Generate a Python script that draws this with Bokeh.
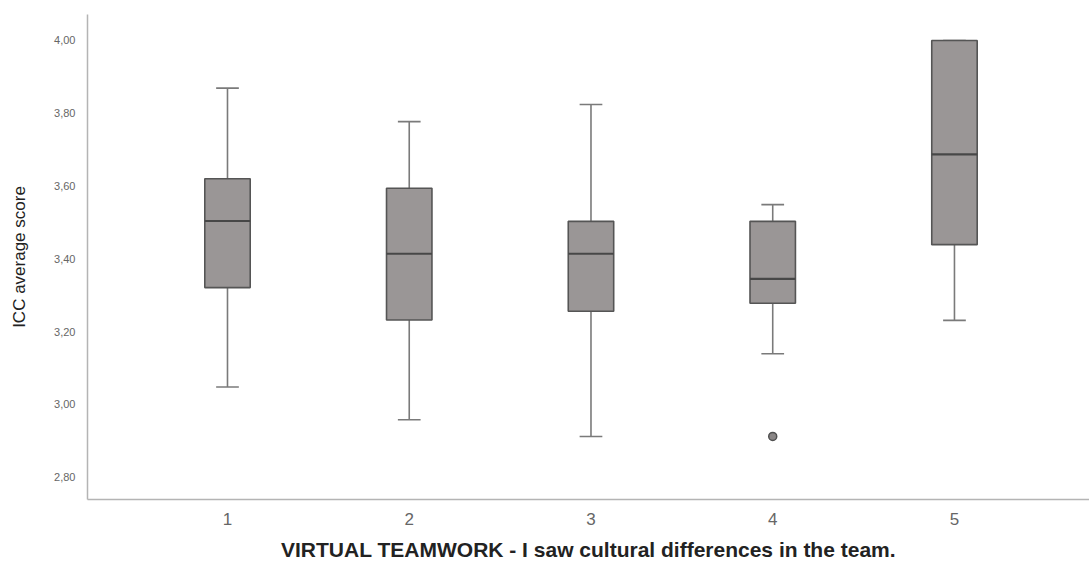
import numpy as np
from bokeh.plotting import figure
from bokeh.models import FixedTicker, CustomJSTickFormatter, Range1d
from bokeh.embed import file_html
from bokeh.resources import INLINE

# ---- data ----
categories = [1, 2, 3, 4, 5]
lower_whisker = [3.048, 2.958, 2.912, 3.139, 3.231]
q1 = [3.321, 3.232, 3.256, 3.278, 3.439]
median = [3.504, 3.414, 3.414, 3.345, 3.687]
q3 = [3.620, 3.594, 3.503, 3.503, 4.000]
upper_whisker = [3.869, 3.777, 3.824, 3.549, 4.000]
outlier_cat = [4]
outlier_val = [2.912]
y_ticks = [2.8, 3.0, 3.2, 3.4, 3.6, 3.8, 4.0]

x = np.array(categories, dtype=float)
box_w = 0.25
cap_w = 0.125

p = figure(width=1089, height=563, output_backend="svg", toolbar_location=None,
           x_range=Range1d(0.2297, 5.743), y_range=Range1d(2.7387, 4.0714),
           min_border_left=87, min_border_top=14, min_border_bottom=64, min_border_right=0)
p.outline_line_color = None
p.xgrid.grid_line_color = None
p.ygrid.grid_line_color = None
p.background_fill_color = "white"

whisk_col = "#7a7a7a"
dark = "#555555"
fill = "#9a9696"

# whiskers
p.segment(x0=x, y0=q3, x1=x, y1=upper_whisker, line_color=whisk_col, line_width=1.6)
p.segment(x0=x, y0=lower_whisker, x1=x, y1=q1, line_color=whisk_col, line_width=1.6)
# caps
p.segment(x0=x - cap_w / 2, y0=upper_whisker, x1=x + cap_w / 2, y1=upper_whisker,
          line_color=whisk_col, line_width=1.6)
p.segment(x0=x - cap_w / 2, y0=lower_whisker, x1=x + cap_w / 2, y1=lower_whisker,
          line_color=whisk_col, line_width=1.6)
# boxes
p.vbar(x=x, width=box_w, bottom=q1, top=q3, fill_color=fill, line_color=dark, line_width=1.6)
# medians
p.segment(x0=x - box_w / 2, y0=median, x1=x + box_w / 2, y1=median, line_color="#474747", line_width=2.2)
# outliers
p.scatter(x=outlier_cat, y=outlier_val, size=8, fill_color="#8a8686", line_color="#505050", line_width=1.5)

# axes
for ax in (p.xaxis[0], p.yaxis[0]):
    ax.axis_line_color = "#b4b4b4"
    ax.axis_line_width = 1.5
    ax.major_tick_line_color = None
    ax.minor_tick_line_color = None
    ax.major_label_text_font = "Liberation Sans"
    ax.axis_label_text_font = "Liberation Sans"
    ax.axis_label_text_color = "#222222"

p.xaxis.ticker = FixedTicker(ticks=categories)
p.xaxis.major_label_text_font_size = "17px"
p.xaxis.major_label_text_color = "#666666"
p.xaxis.major_label_standoff = 7
p.xaxis.axis_label = "VIRTUAL TEAMWORK - I saw cultural differences in the team."
p.xaxis.axis_label_text_font_size = "21px"
p.xaxis.axis_label_text_font_style = "bold"
p.xaxis.axis_label_standoff = 10

p.yaxis.ticker = FixedTicker(ticks=y_ticks)
p.yaxis.formatter = CustomJSTickFormatter(code="return tick.toFixed(2).replace('.', ',');")
p.yaxis.major_label_text_font_size = "11px"
p.yaxis.major_label_text_color = "#666666"
p.yaxis.major_label_standoff = 6
p.yaxis.axis_label = "ICC average score"
p.yaxis.axis_label_text_font_size = "17px"
p.yaxis.axis_label_text_font_style = "normal"
p.yaxis.axis_label_standoff = 22

open("out.html", "w").write(file_html(p, INLINE))
